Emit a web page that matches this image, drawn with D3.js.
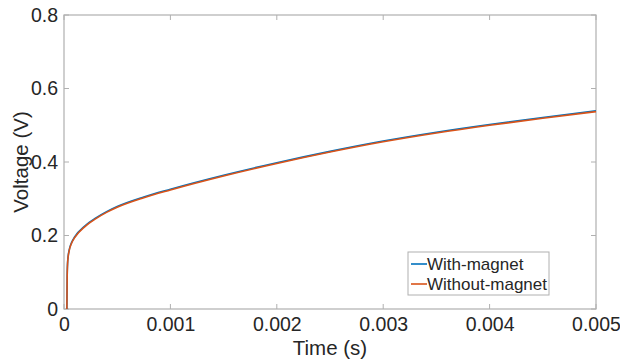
<!DOCTYPE html>
<html>
<head>
<meta charset="utf-8">
<script src="https://cdn.jsdelivr.net/npm/d3@7"></script>
<style>
  body { margin: 0; background: #fff; }
  svg text { font-family: "Liberation Sans", Arial, sans-serif; fill: #262626; }
</style>
</head>
<body>
<svg id="chart" width="620" height="360"></svg>
<script>
// time (s)
const time = [0.000027, 0.00003, 0.000035, 0.00005, 0.00007, 0.0001, 0.0002, 0.0003, 0.0004, 0.0005,
  0.00075, 0.001, 0.0015, 0.002, 0.0025, 0.003, 0.0035, 0.004, 0.0045, 0.005];
// voltage (V)
const withMagnet = [0, 0.092, 0.132, 0.162, 0.18, 0.196, 0.227, 0.248, 0.265, 0.279,
  0.305, 0.326, 0.364, 0.398, 0.429, 0.457, 0.481, 0.502, 0.521, 0.539];
const withoutMagnet = [0, 0.09, 0.13, 0.16, 0.178, 0.194, 0.225, 0.246, 0.263, 0.277,
  0.303, 0.324, 0.362, 0.396, 0.427, 0.455, 0.479, 0.5, 0.519, 0.537];
const xTicks = [0, 0.001, 0.002, 0.003, 0.004, 0.005];
const yTicks = [0, 0.2, 0.4, 0.6, 0.8];
const seriesNames = ['With-magnet', 'Without-magnet'];
const colors = ['#0072BD', '#D95319'];

const margin = { top: 15, right: 24, bottom: 51, left: 64 };
const width = 620 - margin.left - margin.right;
const height = 360 - margin.top - margin.bottom;
const axisColor = '#b0b0b0';

const svg = d3.select('#chart');
const g = svg.append('g').attr('transform', `translate(${margin.left},${margin.top})`);

const x = d3.scaleLinear().domain([0, 0.005]).range([0, width]);
const y = d3.scaleLinear().domain([0, 0.8]).range([height, 0]);

// box
g.append('rect')
  .attr('width', width).attr('height', height)
  .attr('fill', 'none').attr('stroke', axisColor).attr('stroke-width', 1.2);

// ticks on all four sides, pointing inward
const tl = 5;
xTicks.forEach(t => {
  g.append('line').attr('x1', x(t)).attr('x2', x(t)).attr('y1', height).attr('y2', height - tl)
    .attr('stroke', axisColor);
  g.append('line').attr('x1', x(t)).attr('x2', x(t)).attr('y1', 0).attr('y2', tl)
    .attr('stroke', axisColor);
});
yTicks.forEach(t => {
  g.append('line').attr('x1', 0).attr('x2', tl).attr('y1', y(t)).attr('y2', y(t))
    .attr('stroke', axisColor);
  g.append('line').attr('x1', width).attr('x2', width - tl).attr('y1', y(t)).attr('y2', y(t))
    .attr('stroke', axisColor);
});

const xAxis = g.append('g')
  .attr('transform', `translate(0,${height})`)
  .call(d3.axisBottom(x).tickValues(xTicks).tickSize(0).tickPadding(8).tickFormat(d => d === 0 ? '0' : d3.format('.3f')(d)));
xAxis.select('.domain').remove();
xAxis.selectAll('text').style('font-size', '19.5px').attr('dy', '0.71em');

const yAxis = g.append('g')
  .call(d3.axisLeft(y).tickValues(yTicks).tickSize(0).tickPadding(6).tickFormat(d => d === 0 ? '0' : d3.format('.1f')(d)));
yAxis.select('.domain').remove();
yAxis.selectAll('text').style('font-size', '19.5px');

// axis titles
g.append('text')
  .attr('x', width / 2).attr('y', height + 46)
  .attr('text-anchor', 'middle').style('font-size', '20.5px')
  .text('Time (s)');
g.append('text')
  .attr('transform', `translate(${-36},${height / 2}) rotate(-90)`)
  .attr('text-anchor', 'middle').style('font-size', '20.5px')
  .text('Voltage (V)');

// lines
const line = d3.line()
  .x((d, i) => x(time[i]))
  .y(d => y(d))
  .curve(d3.curveMonotoneX);

[withMagnet, withoutMagnet].forEach((vals, k) => {
  g.append('path')
    .datum(vals)
    .attr('d', line)
    .attr('fill', 'none')
    .attr('stroke', colors[k])
    .attr('stroke-width', 1.6);
});

// legend
const lg = g.append('g').attr('transform', `translate(${408 - margin.left},${252 - margin.top})`);
lg.append('rect').attr('width', 141).attr('height', 43)
  .attr('fill', '#fff').attr('stroke', axisColor).attr('stroke-width', 1);
seriesNames.forEach((name, i) => {
  const yy = 12 + i * 20;
  lg.append('line').attr('x1', 3).attr('x2', 19).attr('y1', yy).attr('y2', yy)
    .attr('stroke', colors[i]).attr('stroke-width', 1.6);
  lg.append('text').attr('x', 19).attr('y', yy).attr('dy', '0.35em')
    .style('font-size', '17px').text(name);
});
</script>
</body>
</html>
